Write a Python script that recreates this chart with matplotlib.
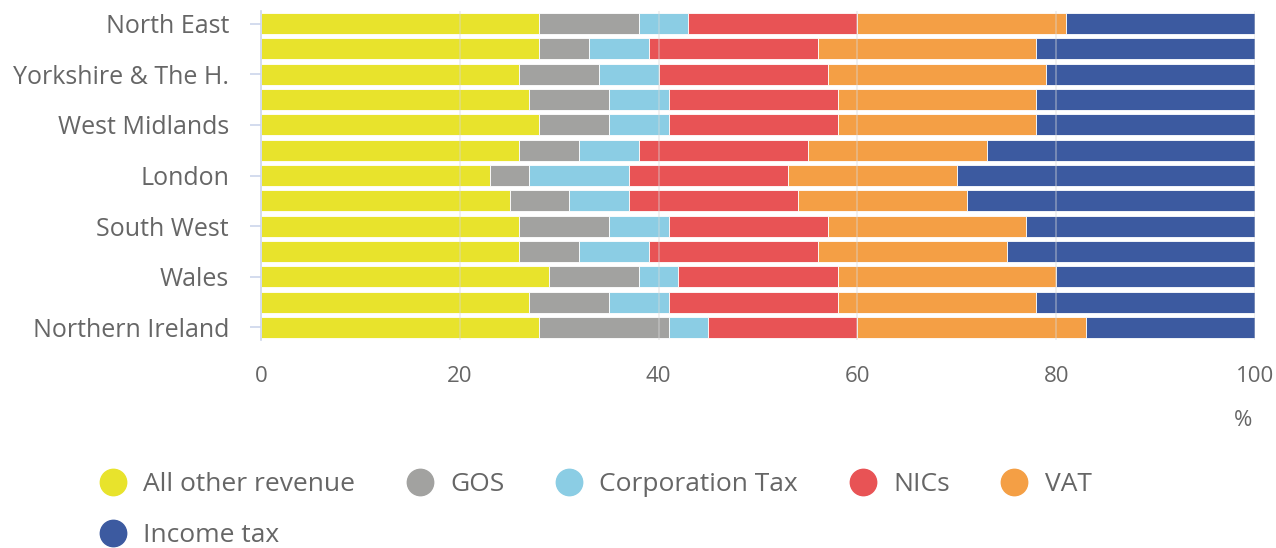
import numpy as np
import matplotlib.pyplot as plt
from matplotlib.lines import Line2D

plt.rcParams['font.family'] = ['Open Sans', 'DejaVu Sans']

regions = ["North East", "North West", "Yorkshire & The H.", "East Midlands",
           "West Midlands", "East of England", "London", "South East",
           "South West", "England", "Wales", "Scotland", "Northern Ireland"]

series_names = ["All other revenue", "GOS", "Corporation Tax", "NICs", "VAT", "Income tax"]

all_other = [28, 28, 26, 27, 28, 26, 23, 25, 26, 26, 29, 27, 28]
gos = [10, 5, 8, 8, 7, 6, 4, 6, 9, 6, 9, 8, 13]
corp_tax = [5, 6, 6, 6, 6, 6, 10, 6, 6, 7, 4, 6, 4]
nics = [17, 17, 17, 17, 17, 17, 16, 17, 16, 17, 16, 17, 15]
vat = [21, 22, 22, 20, 20, 18, 17, 17, 20, 19, 22, 20, 23]
income_tax = [19, 22, 21, 22, 22, 27, 30, 29, 23, 25, 20, 22, 17]

colors = ["#e8e32c", "#a2a2a0", "#8bcde4", "#e85355", "#f49f45", "#3c5aa0"]

text_col = "#666666"
axis_col = "#ccd6eb"

fig = plt.figure(figsize=(12.76, 5.48), dpi=100)
ax = fig.add_axes([261 / 1276, 1 - 340 / 548, (1255 - 261) / 1276, (340 - 11) / 548])

y = np.arange(len(regions))
left = np.zeros(len(regions))
for vals, name, c in zip([all_other, gos, corp_tax, nics, vat, income_tax], series_names, colors):
    vals = np.array(vals, dtype=float)
    ax.barh(y, vals, left=left, height=0.83, color=c, edgecolor="white", linewidth=0.6, label=name)
    left += vals

ax.set_xlim(0, 100)
ax.set_ylim(len(regions) - 0.5, -0.5)

# faint grid showing through the bars
for gx in [20, 40, 60, 80, 100]:
    ax.axvline(gx, color="#d8d8d8", lw=1.2, alpha=0.45, zorder=3)

ax.set_yticks(y[::2])
ax.set_yticklabels(regions[::2])
ax.set_xticks([0, 20, 40, 60, 80, 100])
ax.tick_params(axis="y", length=8, color=axis_col, width=1.2, pad=15, labelsize=18, labelcolor=text_col)
ax.tick_params(axis="x", length=0, pad=19, labelsize=16, labelcolor=text_col)

for s in ["top", "right", "bottom"]:
    ax.spines[s].set_visible(False)
ax.spines["left"].set_color(axis_col)
ax.spines["left"].set_linewidth(1.2)

fig.text(1243 / 1276, 1 - 421 / 548, "%", ha="center", va="center", fontsize=16, color=text_col)

handles = [Line2D([], [], marker="o", ls="", markersize=19, markerfacecolor=c, markeredgecolor=c)
           for c in colors]
# legend fills by column, reorder so it reads row-wise
order = [0, 5, 1, 2, 3, 4]
fig.legend([handles[i] for i in order], [series_names[i] for i in order],
           loc="upper left", bbox_to_anchor=(97 / 1276, 1 - 472 / 548),
           ncol=5, frameon=False, fontsize=19, labelcolor=text_col, handletextpad=0.55,
           columnspacing=1.85, labelspacing=0.98, handlelength=1.2, borderpad=0, borderaxespad=0)

fig.savefig("out.png", dpi=100)
